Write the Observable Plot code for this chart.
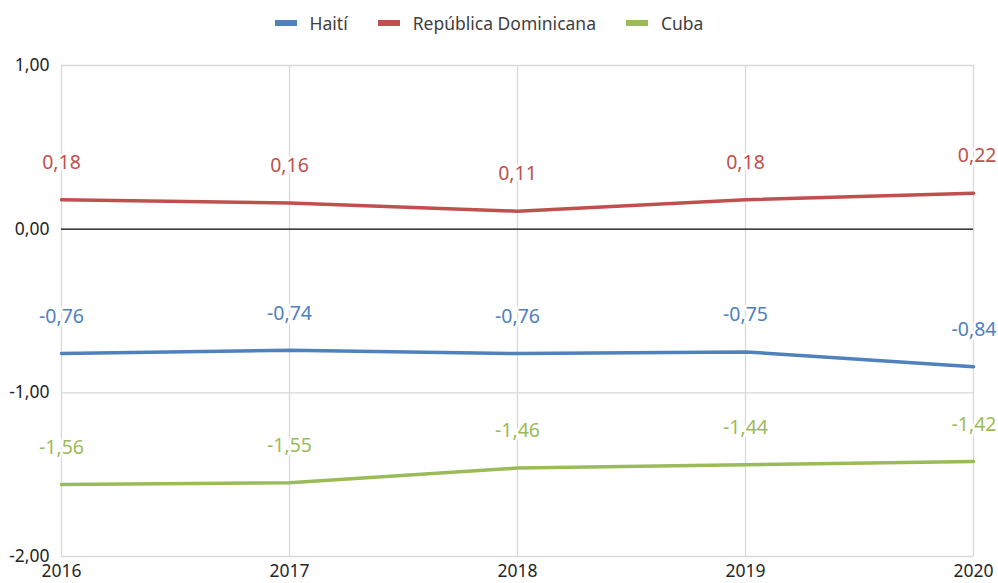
<!DOCTYPE html>
<html>
<head>
<meta charset="utf-8">
<script src="https://cdn.jsdelivr.net/npm/d3@7"></script>
<script src="https://cdn.jsdelivr.net/npm/@observablehq/plot@0.6"></script>
<style>
  html, body { margin: 0; padding: 0; background: #fff; }
  body { width: 998px; height: 583px; overflow: hidden; font-family: "Noto Sans", "Open Sans", sans-serif; }
  #legend { height: 45px; display: flex; justify-content: center; align-items: center; font-size: 17.5px; color: #404040; padding-right: 20px; box-sizing: border-box; }
  .item { display: flex; align-items: center; margin: 0 15px; }
  .sw { width: 22px; height: 6px; margin-right: 13px; }
</style>
</head>
<body>
<div id="legend"></div>
<div id="chart"></div>
<script>
const years = [2016, 2017, 2018, 2019, 2020];
const seriesNames = ["Haití", "República Dominicana", "Cuba"];
const seriesColors = ["#4f81bd", "#c0504d", "#9bbb59"];
const haiti = [-0.76, -0.74, -0.76, -0.75, -0.84];
const republicaDominicana = [0.18, 0.16, 0.11, 0.18, 0.22];
const cuba = [-1.56, -1.55, -1.46, -1.44, -1.42];
const yTicks = [1, 0, -1, -2];

const seriesValues = [haiti, republicaDominicana, cuba];
const data = [];
seriesNames.forEach((name, i) => {
  years.forEach((yr, j) => data.push({series: name, year: yr, value: seriesValues[i][j]}));
});
const fmt = v => v.toFixed(2).replace(".", ",");

const legend = document.getElementById("legend");
seriesNames.forEach((n, i) => {
  const it = document.createElement("div");
  it.className = "item";
  it.innerHTML = `<span class="sw" style="background:${seriesColors[i]}"></span><span>${n}</span>`;
  legend.appendChild(it);
});

const lastYear = years[years.length - 1];
const chart = Plot.plot({
  width: 998,
  height: 538,
  marginTop: 20,
  marginBottom: 27,
  marginLeft: 61,
  marginRight: 25,
  style: {fontFamily: "'Noto Sans', 'Open Sans', sans-serif", fontSize: "17.5px", color: "#262626", background: "white", overflow: "visible"},
  x: {domain: [years[0], lastYear], ticks: years, tickFormat: d => String(d), tickSize: 0, tickPadding: 8, label: null},
  y: {domain: [-2, 1], ticks: yTicks, tickFormat: fmt, tickSize: 0, tickPadding: 12, label: null},
  color: {domain: seriesNames, range: seriesColors},
  marks: [
    Plot.ruleX(years, {stroke: "#d9d9d9", strokeWidth: 1.3}),
    Plot.ruleY([1, -1, -2], {stroke: "#d9d9d9", strokeWidth: 1.3}),
    Plot.ruleY([0], {stroke: "#000", strokeWidth: 1.2}),
    Plot.lineY(data, {x: "year", y: "value", z: "series", stroke: "series", strokeWidth: 3.5}),
    Plot.text(data.filter(d => d.year !== lastYear), {x: "year", y: "value", text: d => fmt(d.value), fill: "series", dy: -37, fontSize: 19.5, stroke: "white", strokeWidth: 5, paintOrder: "stroke"}),
    Plot.text(data.filter(d => d.year === lastYear), {x: "year", y: "value", text: d => fmt(d.value), fill: "series", dy: -37, dx: 23, textAnchor: "end", fontSize: 19.5, stroke: "white", strokeWidth: 5, paintOrder: "stroke"})
  ]
});
document.getElementById("chart").appendChild(chart);
</script>
</body>
</html>
